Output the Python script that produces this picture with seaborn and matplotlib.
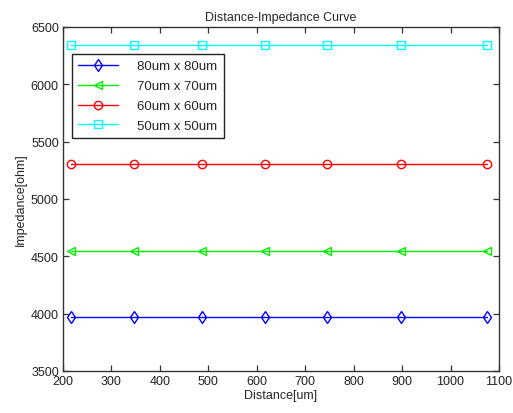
import matplotlib
matplotlib.use("Agg")
import matplotlib.pyplot as plt
import seaborn as sns
import pandas as pd

distance = [217, 347, 486, 616, 744, 898, 1076]
imp_80 = [3970, 3970, 3970, 3970, 3970, 3970, 3970]
imp_70 = [4545, 4545, 4545, 4545, 4545, 4545, 4545]
imp_60 = [5305, 5305, 5305, 5305, 5305, 5305, 5305]
imp_50 = [6345, 6345, 6345, 6345, 6345, 6345, 6345]
labels = ["80um x 80um", "70um x 70um", "60um x 60um", "50um x 50um"]
series = [imp_80, imp_70, imp_60, imp_50]
colors = ["#0000ff", "#00ee00", "#ff0000", "#00ffff"]
markers = ["d", "<", "o", "s"]
msizes = [6.5, 6, 6, 6]

sns.set_style("white")
plt.rcParams['font.family'] = ['Liberation Sans', 'DejaVu Sans']

fig = plt.figure(figsize=(5.13, 4.14), dpi=100)
ax = fig.add_axes([63/513, 1-372/414, 436/513, 344/414])

for lab, vals, c, m, ms in zip(labels, series, colors, markers, msizes):
    df = pd.DataFrame({"x": distance, "y": vals})
    sns.lineplot(data=df, x="x", y="y", ax=ax, color=c, marker=m,
                 markersize=ms, markerfacecolor="none", markeredgecolor=c,
                 markeredgewidth=1.0, linewidth=1.0, label=lab)

ax.set_xlim(200, 1100)
ax.set_ylim(3500, 6500)
ax.set_xticks(range(200, 1101, 100))
ax.set_yticks(range(3500, 6501, 500))
ax.tick_params(direction="in", length=4, width=0.9, bottom=True, left=True,
               top=True, right=True, labelsize=9, colors="#333333",
               labelcolor="#222222", pad=3)
for s in ax.spines.values():
    s.set_color("#333333")
    s.set_linewidth(1.0)
ax.set_xlabel("Distance[um]", fontsize=9, labelpad=1)
ax.set_ylabel("Impedance[ohm]", fontsize=9, labelpad=3)
ax.set_title("Distance-Impedance Curve", fontsize=9, pad=5)

leg = ax.legend(loc="upper left", bbox_to_anchor=(0.021, 0.921), fontsize=9.5,
                handlelength=3.0, frameon=True, fancybox=False,
                edgecolor="#222222", framealpha=1, borderpad=0.45,
                labelspacing=0.58, handletextpad=1.5, borderaxespad=0)
leg.get_frame().set_linewidth(1.0)

fig.savefig("out.png", dpi=100)
